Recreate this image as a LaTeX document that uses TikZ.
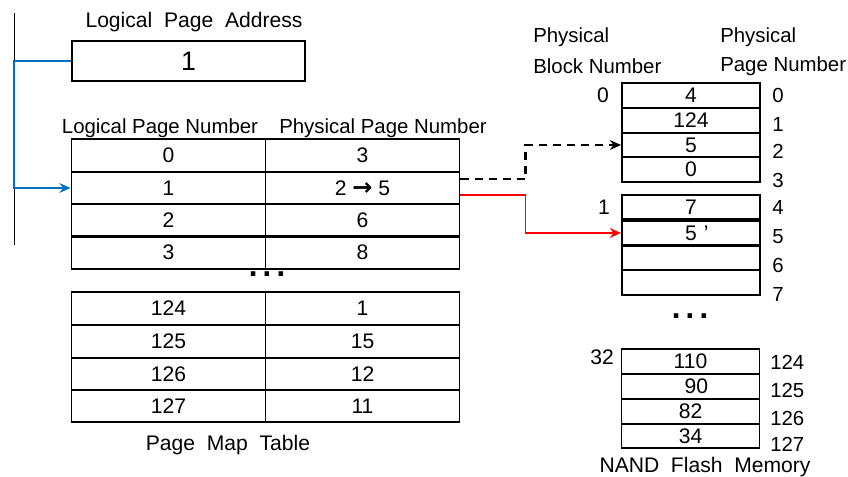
\documentclass[tikz,border=0pt]{standalone}
\usepackage{fontspec}
\setmainfont{Liberation Sans}
\newfontfamily\dejavu{DejaVu Sans}
\usetikzlibrary{arrows.meta}

\begin{document}
\begin{tikzpicture}[x=0.025cm, y=-0.025cm]
  % Definir colores
  \definecolor{mapblue}{RGB}{0, 112, 192}
  \definecolor{mapred}{RGB}{255, 0, 0}

  % Configurar estilo de nodos
  \tikzset{
    mapcell/.style={draw, line width=1.3pt, minimum width=4.85cm, minimum height=0.81cm, inner sep=0pt, font=\fontsize{15}{18}\selectfont},
    flashcell/.style={draw, line width=1.3pt, minimum width=3.45cm, minimum height=0.62cm, inner sep=0pt, font=\fontsize{15}{18}\selectfont},
    caption/.style={inner sep=0pt, font=\fontsize{15}{18}\selectfont},
    idx/.style={inner sep=0pt, anchor=west, font=\fontsize{14.5}{17}\selectfont},
    gap/.style={inner sep=0pt, font=\dejavu\bfseries\fontsize{18}{20}\selectfont},
    link/.style={line width=1.2pt, -{Stealth[length=8pt, width=7pt]}}
  }

  \useasboundingbox (0,0) rectangle (848,477);

  % Direccion logica
  \node[caption] (lpatitle) at (194,22) {Logical\ \ Page\ \ Address};
  \node[draw, line width=1.3pt, minimum width=5.825cm, minimum height=0.98cm, inner sep=0pt, font=\fontsize{19}{22}\selectfont] (lpa) at (188.5,61) {1};

  % Encabezados de columnas
  \node[caption, font=\fontsize{14.5}{17}\selectfont] (lpnhead) at (160,128) {Logical Page Number};
  \node[caption, font=\fontsize{14.5}{17}\selectfont] (ppnhead) at (383,128) {Physical Page Number};

  % Tabla de paginas (parte superior)
  \node[mapcell] (lpn0) at (168.5,155.5) {0};
  \node[mapcell] (ppn0) at (362.5,155.5) {3};
  \node[mapcell] (lpn1) at (168.5,188) {1};
  \node[mapcell] (ppn1) at (362.5,188) {2 {\dejavu\bfseries\fontsize{17}{18}\selectfont →} 5};
  \node[mapcell] (lpn2) at (168.5,220.5) {2};
  \node[mapcell] (ppn2) at (362.5,220.5) {6};
  \node[mapcell] (lpn3) at (168.5,252.5) {3};
  \node[mapcell] (ppn3) at (362.5,252.5) {8};

  \node[gap] (tabgap) at (267,274) {.\,.\,.};

  % Tabla de paginas (parte inferior)
  \node[mapcell] (lpn124) at (168.5,308.5) {124};
  \node[mapcell] (ppn124) at (362.5,308.5) {1};
  \node[mapcell] (lpn125) at (168.5,341.5) {125};
  \node[mapcell] (ppn125) at (362.5,341.5) {15};
  \node[mapcell] (lpn126) at (168.5,374) {126};
  \node[mapcell] (ppn126) at (362.5,374) {12};
  \node[mapcell] (lpn127) at (168.5,406) {127};
  \node[mapcell] (ppn127) at (362.5,406) {11};

  \node[caption] (maptitle) at (228,445) {Page\ \ Map\ \ Table};

  % Encabezados de la memoria
  \node[idx] (pbn1) at (533,37) {Physical};
  \node[idx] (pbn2) at (533,66) {Block Number};
  \node[idx] (ppnh1) at (720,37) {Physical};
  \node[idx] (ppnh2) at (720,66) {Page Number};

  % Bloque 0
  \node[flashcell] (nand0) at (691,95.5) {4};
  \node[flashcell] (nand1) at (691,120.5) {124};
  \node[flashcell] (nand2) at (691,145) {5};
  \node[flashcell] (nand3) at (691,169.5) {0};

  % Bloque 1
  \node[flashcell] (nand4) at (691,207) {7};
  \node[flashcell] (nand5) at (691,233) {\ \ 5\,\,'};
  \node[flashcell] (nand6) at (691,258) {};
  \node[flashcell] (nand7) at (691,282.5) {};

  \node[gap] (nandgap) at (690,316) {.\,.\,.};

  % Bloque 32
  \node[flashcell] (nand124) at (690.5,361.5) {110};
  \node[flashcell] (nand125) at (690.5,386.5) {\ \ 90};
  \node[flashcell] (nand126) at (690.5,411.5) {82};
  \node[flashcell] (nand127) at (690.5,436) {34};

  % Numeros de bloque
  \node[caption] (blk0) at (603,95) {0};
  \node[caption] (blk1) at (604,207) {1};
  \node[caption] (blk32) at (602,357) {32};

  % Numeros de pagina fisica
  \node[idx] (pg0) at (772,95) {0};
  \node[idx] (pg1) at (772,124) {1};
  \node[idx] (pg2) at (772,151) {2};
  \node[idx] (pg3) at (772,180) {3};
  \node[idx] (pg4) at (772,207) {4};
  \node[idx] (pg5) at (772,237) {5};
  \node[idx] (pg6) at (772,265) {6};
  \node[idx] (pg7) at (772,294) {7};
  \node[idx] (pg124) at (770,362) {124};
  \node[idx] (pg125) at (770,390) {125};
  \node[idx] (pg126) at (770,418) {126};
  \node[idx] (pg127) at (770,444) {127};

  \node[caption] (nandtitle) at (705,467) {NAND\ \ Flash\ \ Memory};

  % Conectores
  \coordinate (railtop) at (14,13);
  \coordinate (railbot) at (14,245);
  \draw[line width=0.6pt] (railtop) -- (railbot);
  \draw[link, mapblue] (lpa.west) -- (lpa.west -| railtop) |- (lpn1.west);
  \draw[link, line width=1.5pt, dash pattern=on 6pt off 4pt] (ppn1.5) -- ++(65,0) |- (nand2.west);
  \draw[link, mapred] (ppn1.-4) -- ++(65,0) |- (nand5.west);
\end{tikzpicture}
\end{document}
